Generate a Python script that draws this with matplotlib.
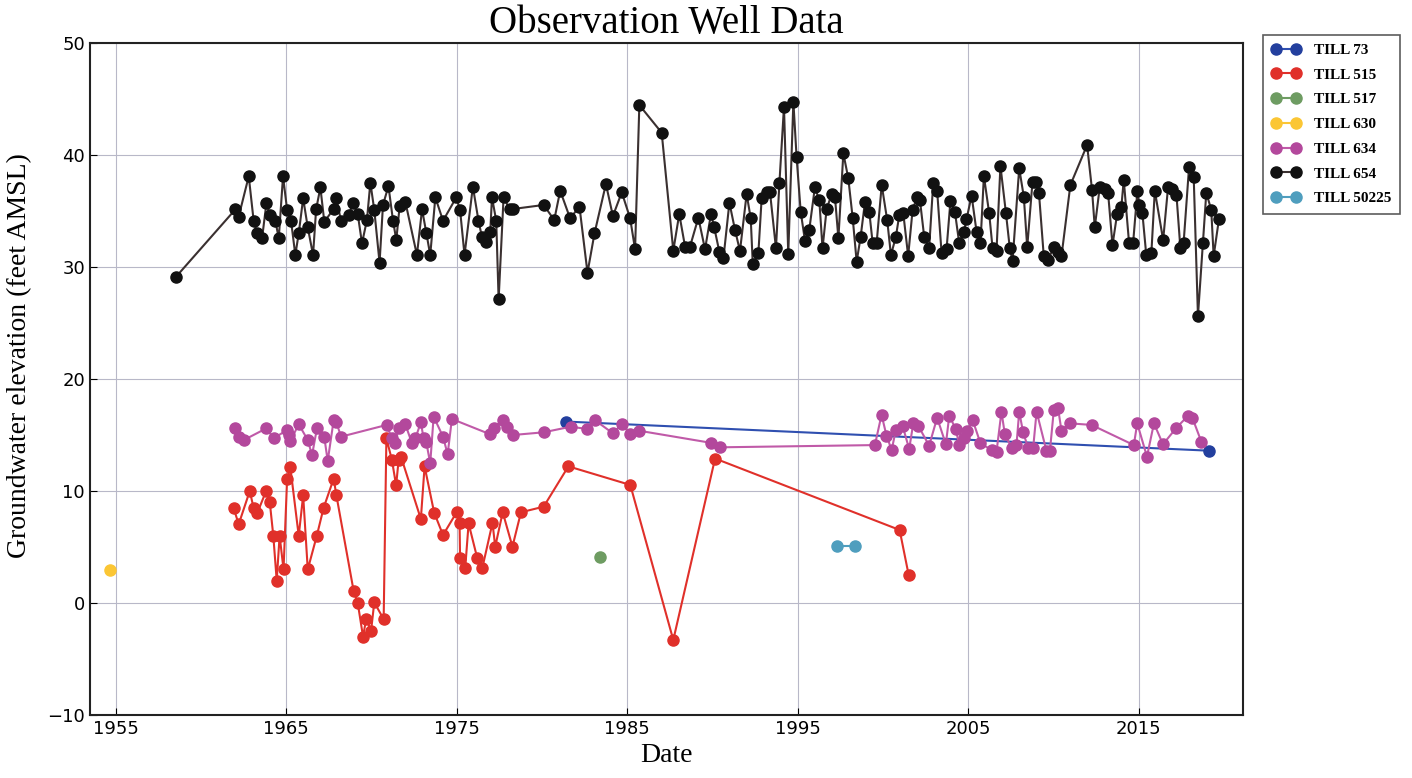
import matplotlib
matplotlib.use("Agg")
import matplotlib.pyplot as plt
import numpy as np

# decimal years / groundwater elevation (feet AMSL)
till73_t = [1981.4, 2019.1]
till73_v = [16.2, 13.6]

till515_t = [1961.93, 1962.22, 1962.87, 1963.1, 1963.3, 1963.83, 1964.04, 1964.25, 1964.45,
             1964.62, 1964.85, 1965.06, 1965.25, 1965.74, 1966.0, 1966.27, 1966.8, 1967.2,
             1967.79, 1967.95, 1968.96, 1969.2, 1969.51, 1969.7, 1969.98, 1970.17, 1970.72,
             1970.88, 1971.2, 1971.45, 1971.6, 1971.75, 1972.9, 1973.12, 1973.68, 1974.2,
             1975.0, 1975.17, 1975.2, 1975.5, 1975.7, 1976.2, 1976.5, 1977.1, 1977.26, 1977.7,
             1978.27, 1978.77, 1980.1, 1981.55, 1985.18, 1987.7, 1990.15, 2000.97, 2001.5]
till515_v = [8.45, 7.03, 10.0, 8.45, 8.0, 10.0, 9.05, 6.0, 2.0,
             6.0, 3.0, 11.1, 12.1, 6.0, 9.6, 3.0, 6.0, 8.5,
             11.1, 9.6, 1.07, 0.0, -3.0, -1.4, -2.5, 0.06, -1.45,
             14.7, 12.8, 10.5, 12.8, 13.0, 7.5, 12.2, 8.07, 6.07,
             8.1, 7.1, 4.05, 3.1, 7.1, 4.05, 3.1, 7.15, 5.03, 8.1,
             5.03, 8.1, 8.6, 12.2, 10.54, -3.3, 12.9, 6.52, 2.5]

till517_t = [1983.4]
till517_v = [4.1]

till630_t = [1954.7]
till630_v = [2.95]

till634_t = [1962.03, 1962.22, 1962.52, 1963.85, 1964.27, 1965.06, 1965.15, 1965.25, 1965.74,
             1966.27, 1966.52, 1966.81, 1967.24, 1967.44, 1967.79, 1967.95, 1968.22, 1970.9,
             1971.2, 1971.4, 1971.6, 1971.99, 1972.38, 1972.58, 1972.9, 1973.06, 1973.22,
             1973.45, 1973.65, 1974.2, 1974.47, 1974.72, 1976.97, 1977.16, 1977.7, 1977.95,
             1978.3, 1980.1, 1981.68, 1982.64, 1983.09, 1984.16, 1984.68, 1985.18, 1985.7,
             1989.91, 1990.44, 1999.52, 1999.91, 2000.2, 2000.5, 2000.75, 2001.14, 2001.53,
             2001.77, 2002.06, 2002.7, 2003.17, 2003.68, 2003.88, 2004.27, 2004.46, 2004.74,
             2004.93, 2005.25, 2005.71, 2006.36, 2006.65, 2006.94, 2007.14, 2007.53, 2007.82,
             2007.98, 2008.21, 2008.5, 2008.8, 2009.0, 2009.58, 2009.78, 2010.01, 2010.26,
             2010.46, 2010.95, 2012.22, 2014.7, 2014.9, 2015.47, 2015.88, 2016.41, 2017.2,
             2017.88, 2018.13, 2018.66]
till634_v = [15.65, 14.85, 14.55, 15.6, 14.7, 15.45, 15.0, 14.46, 15.96,
             14.55, 13.2, 15.6, 14.8, 12.68, 16.34, 16.13, 14.85, 15.9,
             14.7, 14.26, 15.6, 15.96, 14.26, 14.7, 16.13, 14.7, 14.35,
             12.47, 16.64, 14.85, 13.28, 16.43, 15.06, 15.65, 16.34, 15.74,
             15.0, 15.24, 15.74, 15.54, 16.34, 15.15, 15.98, 15.06, 15.38,
             14.3, 13.9, 14.1, 16.8, 14.95, 13.66, 15.45, 15.83, 13.75,
             16.04, 15.83, 14.05, 16.54, 14.17, 16.72, 15.5, 14.1, 14.76,
             15.36, 16.34, 14.26, 13.66, 13.5, 17.08, 15.06, 13.87, 14.1,
             17.08, 15.24, 13.87, 13.87, 17.08, 13.57, 13.57, 17.23, 17.38,
             15.36, 16.04, 15.9, 14.1, 16.04, 13.07, 16.04, 14.17, 15.65,
             16.72, 16.54, 14.4]

till654_t = [1958.52, 1962.03, 1962.22, 1962.81, 1963.1, 1963.3, 1963.59, 1963.85, 1964.04,
             1964.37, 1964.57, 1964.82, 1965.06, 1965.29, 1965.54, 1965.74, 1966.0, 1966.27,
             1966.58, 1966.76, 1967.01, 1967.24, 1967.79, 1967.95, 1968.22, 1968.67, 1968.92,
             1969.2, 1969.45, 1969.74, 1969.94, 1970.17, 1970.48, 1970.68, 1971.0, 1971.27,
             1971.46, 1971.66, 1971.99, 1972.67, 1972.97, 1973.22, 1973.45, 1973.75, 1974.2,
             1974.98, 1975.2, 1975.46, 1975.95, 1976.28, 1976.48, 1976.73, 1976.97, 1977.07,
             1977.32, 1977.46, 1977.75, 1978.1, 1978.3, 1980.1, 1980.72, 1981.07, 1981.65,
             1982.2, 1982.67, 1983.08, 1983.75, 1984.16, 1984.68, 1985.17, 1985.46, 1985.71,
             1987.02, 1987.7, 1988.05, 1988.39, 1988.68, 1989.17, 1989.56, 1989.91, 1990.09,
             1990.4, 1990.64, 1990.99, 1991.32, 1991.61, 1992.0, 1992.24, 1992.36, 1992.69,
             1992.88, 1993.18, 1993.37, 1993.72, 1993.92, 1994.19, 1994.44, 1994.74, 1994.93,
             1995.17, 1995.42, 1995.67, 1996.0, 1996.26, 1996.45, 1996.69, 1996.99, 1997.18,
             1997.38, 1997.67, 1997.96, 1998.22, 1998.45, 1998.68, 1998.94, 1999.19, 1999.39,
             1999.62, 1999.92, 2000.24, 2000.46, 2000.75, 2000.95, 2001.18, 2001.47, 2001.73,
             2002.0, 2002.16, 2002.41, 2002.7, 2002.94, 2003.17, 2003.43, 2003.72, 2003.95,
             2004.21, 2004.46, 2004.74, 2004.89, 2005.19, 2005.48, 2005.71, 2005.91, 2006.22,
             2006.42, 2006.65, 2006.88, 2007.2, 2007.43, 2007.59, 2007.98, 2008.25, 2008.45,
             2008.76, 2008.99, 2009.14, 2009.42, 2009.67, 2010.02, 2010.26, 2010.46, 2010.98,
             2011.96, 2012.25, 2012.41, 2012.7, 2013.0, 2013.19, 2013.45, 2013.72, 2013.97,
             2014.11, 2014.42, 2014.66, 2014.91, 2015.01, 2015.2, 2015.43, 2015.73, 2015.93,
             2016.42, 2016.71, 2016.96, 2017.2, 2017.43, 2017.62, 2017.94, 2018.21, 2018.46,
             2018.75, 2018.95, 2019.24, 2019.38, 2019.69]
till654_v = [29.08, 35.15, 34.5, 38.1, 34.1, 33.06, 32.56, 35.74, 34.64,
             34.13, 32.56, 38.1, 35.09, 34.13, 31.07, 33.0, 36.13, 33.54,
             31.07, 35.15, 37.1, 34.04, 35.18, 36.13, 34.1, 34.64, 35.68,
             34.73, 32.12, 34.2, 37.53, 35.09, 30.38, 35.54, 37.23, 34.13,
             32.41, 35.48, 35.83, 31.07, 35.15, 33.06, 31.07, 36.22, 34.13,
             36.22, 35.09, 31.07, 37.17, 34.13, 32.7, 32.2, 33.15, 36.22,
             34.13, 27.1, 36.22, 35.18, 35.18, 35.54, 34.2, 36.81, 34.35,
             35.39, 29.49, 33.0, 37.41, 34.55, 36.67, 34.35, 31.58, 44.46,
             41.99, 31.46, 34.73, 31.82, 31.82, 34.4, 31.58, 34.73, 33.6,
             31.37, 30.78, 35.74, 33.3, 31.43, 36.52, 34.35, 30.27, 31.28,
             36.13, 36.67, 36.67, 31.67, 37.47, 44.31, 31.16, 44.76, 39.79,
             34.94, 32.35, 33.3, 37.1, 35.98, 31.67, 35.18, 36.52, 36.22,
             32.56, 40.15, 37.92, 34.35, 30.48, 32.65, 35.83, 34.94, 32.12,
             32.12, 37.32, 34.2, 31.07, 32.7, 34.64, 34.85, 30.98, 35.09,
             36.28, 35.98, 32.7, 31.67, 37.53, 36.79, 31.22, 31.58, 35.92,
             34.94, 32.17, 33.15, 34.26, 36.37, 33.15, 32.12, 38.13, 34.8,
             31.67, 31.46, 39.02, 34.85, 31.67, 30.54, 38.81, 36.28, 31.76,
             37.62, 37.56, 36.58, 30.98, 30.63, 31.82, 31.37, 30.98, 37.32,
             40.89, 36.88, 33.54, 37.1, 36.93, 36.64, 31.96, 34.73, 35.39,
             37.77, 32.17, 32.17, 36.81, 35.54, 34.85, 31.07, 31.28, 36.81,
             32.41, 37.17, 36.93, 36.43, 31.67, 32.17, 38.96, 38.07, 25.62,
             32.12, 36.64, 35.09, 30.98, 34.26]

till50225_t = [1997.3, 1998.35]
till50225_v = [5.12, 5.12]

wells = [
    ("TILL 73", till73_t, till73_v, "#233f9e", "#2f4fb0"),
    ("TILL 515", till515_t, till515_v, "#e0302a", "#e0302a"),
    ("TILL 517", till517_t, till517_v, "#6e9c62", "#6e9c62"),
    ("TILL 630", till630_t, till630_v, "#fbc634", "#fbc634"),
    ("TILL 634", till634_t, till634_v, "#b3489c", "#c05aa8"),
    ("TILL 654", till654_t, till654_v, "#111111", "#3a3030"),
    ("TILL 50225", till50225_t, till50225_v, "#4f9ebe", "#4f9ebe"),
]

fig = plt.figure(figsize=(14.12, 7.78), dpi=100)
ax = fig.add_axes([0.0637, 0.081, 0.8166, 0.8637])

for name, t, v, mc, lc in wells:
    ax.plot(t, v, "-o", color=lc, lw=1.5, marker="o", markersize=8,
            markerfacecolor=mc, markeredgecolor=mc, label=name)

ax.set_xlim(1953.5, 2021.1)
ax.set_ylim(-10, 50)
ax.set_xticks(np.arange(1955, 2016, 10))
ax.set_xticklabels([str(y) for y in range(1955, 2016, 10)])
ax.set_yticks(np.arange(-10, 51, 10))
ax.grid(True, color="#b8b8c8", lw=0.8)
ax.tick_params(direction="in", labelsize=13, length=5)
for s in ax.spines.values():
    s.set_linewidth(1.5)
    s.set_color("#222222")

ax.set_title("Observation Well Data", family="Liberation Serif", fontsize=28, pad=7)
ax.set_xlabel("Date", family="Liberation Serif", fontsize=20, labelpad=4)
ax.set_ylabel("Groundwater elevation (feet AMSL)", family="Liberation Serif", fontsize=20)
ax.yaxis.set_label_coords(-0.05, 0.535)

leg = ax.legend(loc="upper left", bbox_to_anchor=(0.8944, 0.955), bbox_transform=fig.transFigure,
                borderaxespad=0, numpoints=2,
                prop={"family": "Liberation Serif", "size": 11, "weight": "bold"},
                fancybox=False, edgecolor="#333333", labelspacing=0.72, handlelength=1.9,
                handletextpad=0.9, borderpad=0.55)
leg.get_frame().set_linewidth(1.2)

fig.savefig("out.png", dpi=100)
